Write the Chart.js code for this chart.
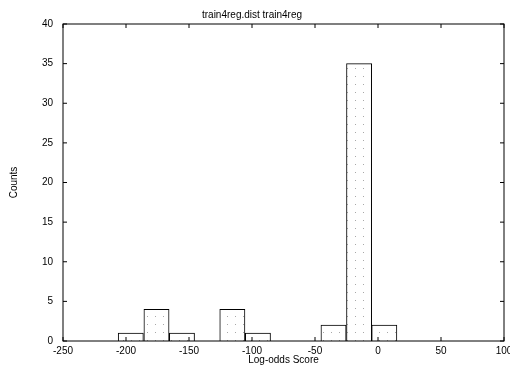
<!DOCTYPE html>
<html>
<head>
<meta charset="utf-8">
<script src="https://cdn.jsdelivr.net/npm/chart.js@4.4.0/dist/chart.umd.min.js"></script>
<style>
  html, body { margin: 0; padding: 0; background: #fff; }
  #wrap { width: 510px; height: 366px; }
</style>
</head>
<body>
<div id="wrap"><canvas id="grafica"></canvas></div>
<script>
// datos del histograma (centros de los bins y cuentas)
const binCenters = [-196.2, -175.8, -155.6, -115.6, -95.3, -35.3, -15.0, 5.0];
const counts = [1, 4, 1, 4, 1, 2, 35, 2];

const titulo = 'train4reg.dist train4reg';
const xTitulo = 'Log-odds Score';
const yTitulo = 'Counts';

const fuente = { family: '"Liberation Sans", Arial, sans-serif', size: 10 };

// patron de puntitos grises tipo gnuplot
function patronPuntos() {
    const c = document.createElement('canvas');
    c.width = 8; c.height = 8;
    const g = c.getContext('2d');
    g.fillStyle = '#fff';
    g.fillRect(0, 0, 8, 8);
    g.fillStyle = '#a8a8a8';
    g.fillRect(3, 4, 1, 1);
    return g.createPattern(c, 'repeat');
}

// marco y marcas hacia adentro en los cuatro lados
const marcoPlugin = {
    id: 'marco',
    afterDraw(chart) {
        const { ctx, chartArea: a, scales } = chart;
        const L = 4;
        ctx.save();
        ctx.strokeStyle = '#000';
        ctx.lineWidth = 1;
        ctx.strokeRect(a.left, a.top, a.right - a.left, a.bottom - a.top);
        ctx.beginPath();
        scales.x.ticks.forEach(t => {
            const px = scales.x.getPixelForValue(t.value);
            ctx.moveTo(px, a.bottom); ctx.lineTo(px, a.bottom - L);
            ctx.moveTo(px, a.top); ctx.lineTo(px, a.top + L);
        });
        scales.y.ticks.forEach(t => {
            const py = scales.y.getPixelForValue(t.value);
            ctx.moveTo(a.left, py); ctx.lineTo(a.left + L, py);
            ctx.moveTo(a.right, py); ctx.lineTo(a.right - L, py);
        });
        ctx.stroke();
        ctx.restore();
    }
};

new Chart(document.getElementById('grafica'), {
    type: 'bar',
    data: {
        datasets: [{
            data: binCenters.map((x, i) => ({ x: x, y: counts[i] })),
            backgroundColor: patronPuntos(),
            borderColor: '#000',
            borderWidth: 1,
            borderSkipped: 'bottom',
            categoryPercentage: 1,
            barPercentage: 1
        }]
    },
    options: {
        responsive: true,
        maintainAspectRatio: false,
        animation: false,
        layout: { padding: { left: 0, right: 6, top: 0, bottom: 0 } },
        plugins: {
            legend: { display: false },
            tooltip: { enabled: false },
            title: {
                display: true,
                text: titulo,
                color: '#000',
                font: { ...fuente, weight: 'normal' },
                padding: { top: 9, bottom: 3 }
            }
        },
        scales: {
            x: {
                type: 'linear',
                min: -250,
                max: 100,
                offset: false,
                grid: { display: false, drawTicks: false },
                border: { display: false },
                ticks: { stepSize: 50, color: '#000', font: fuente, padding: 4, maxRotation: 0 },
                title: { display: true, text: xTitulo, color: '#000', font: fuente, padding: { top: 0, bottom: 0 } },
                afterFit(s) { s.height = 25; s.paddingLeft = 0; s.paddingRight = 0; }
            },
            y: {
                min: 0,
                max: 40,
                grid: { display: false, drawTicks: false },
                border: { display: false },
                ticks: { stepSize: 5, color: '#000', font: fuente, padding: 10 },
                title: { display: true, text: yTitulo, color: '#000', font: fuente, padding: { top: 8, bottom: 0 } },
                afterFit(s) { s.width = 63; s.paddingTop = 0; s.paddingBottom = 0; }
            }
        }
    },
    plugins: [marcoPlugin]
});
</script>
</body>
</html>
